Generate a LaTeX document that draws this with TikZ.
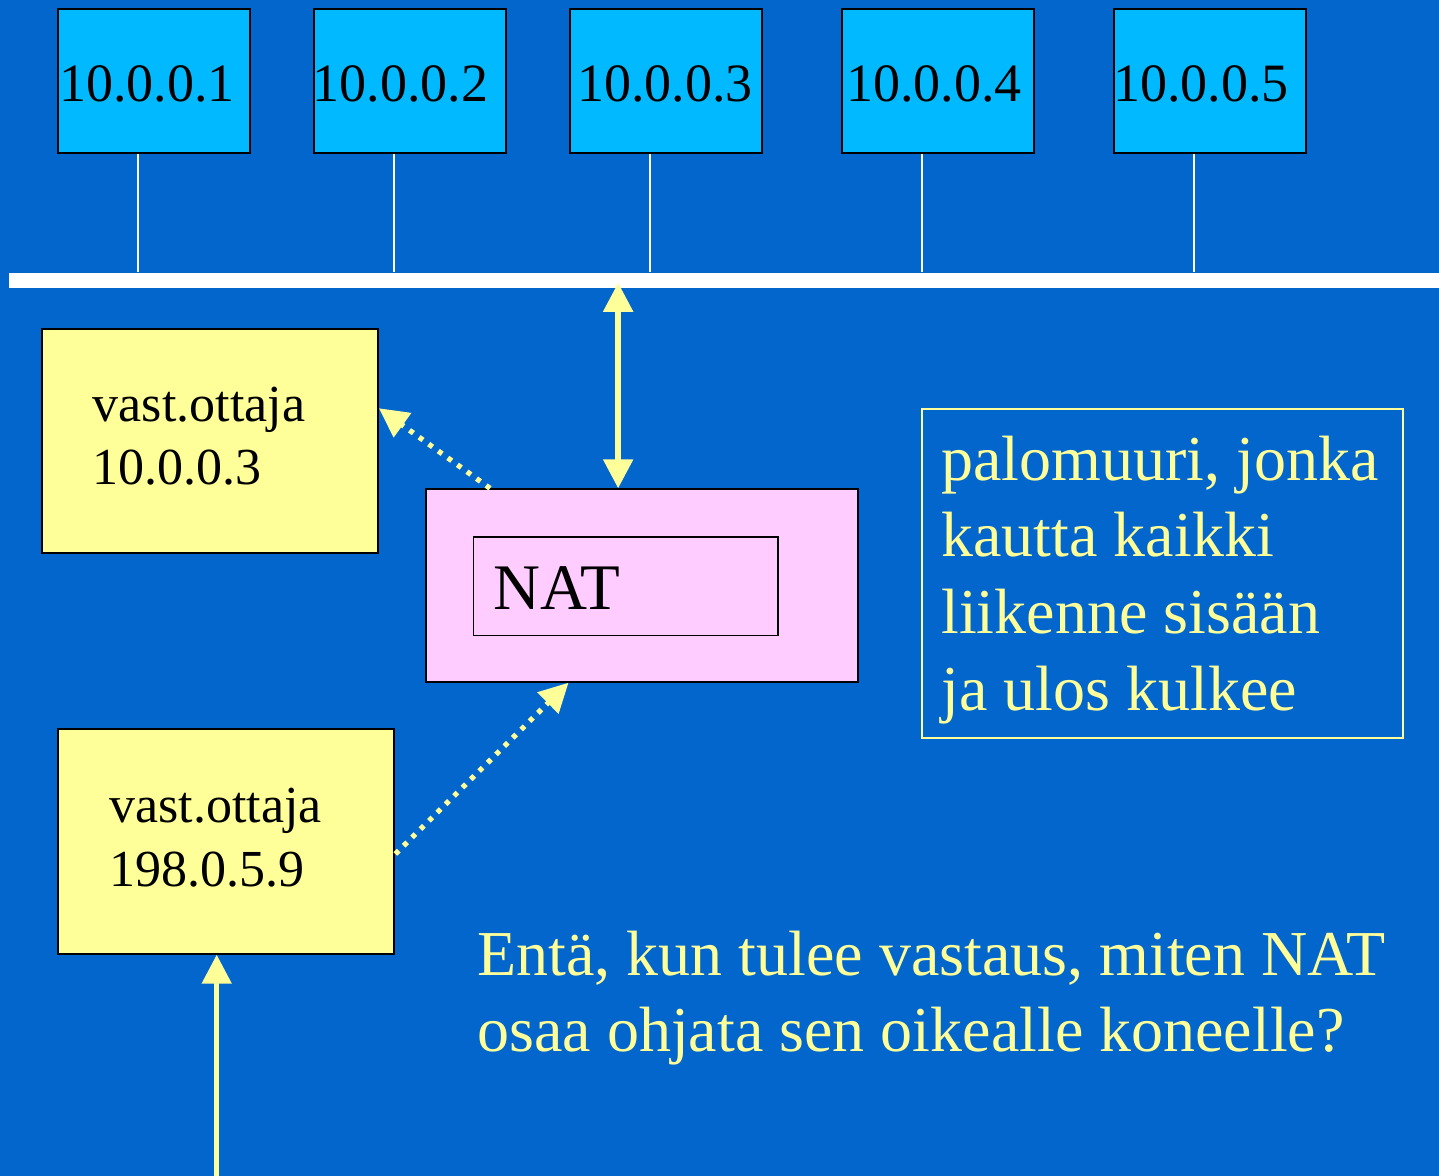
\documentclass[tikz,border=0pt]{standalone}
\usepackage{fontspec}
\setmainfont{Liberation Serif}
\usetikzlibrary{arrows.meta}
\definecolor{bgblue}{HTML}{0366CC}
\definecolor{hostcyan}{HTML}{00B9FF}
\definecolor{pyellow}{HTML}{FFFF99}
\definecolor{ppink}{HTML}{FFCCFF}
\tikzset{
  host/.style={draw=black, line width=1pt, fill=hostcyan, minimum width=96pt, minimum height=72pt, inner sep=0pt, anchor=north west},
  hosttext/.style={anchor=base west, inner sep=0pt, text=black, font=\fontsize{27}{32}\selectfont},
  hostline/.style={draw=white, line width=0.75pt},
  busbar/.style={fill=white, draw=none, minimum width=718.4pt, minimum height=7.85pt, inner sep=0pt, anchor=north west},
  ybox/.style={draw=black, line width=1pt, fill=pyellow, inner sep=0pt, anchor=north west},
  ytext/.style={anchor=base west, inner sep=0pt, text=black, font=\fontsize{26}{31}\selectfont},
  bigtext/.style={anchor=base west, inner sep=0pt, text=pyellow, font=\fontsize{32}{38}\selectfont},
  yarrow/.style={draw=pyellow, line width=2.75pt, arrows={-Triangle[length=14.5pt,width=14.5pt,fill=pyellow]}},
  ydouble/.style={draw=pyellow, line width=2.75pt, arrows={Triangle[length=14.5pt,width=14.5pt,fill=pyellow]-Triangle[length=14.5pt,width=14.5pt,fill=pyellow]}},
  ydotted/.style={draw=pyellow, line width=2.6pt, dash pattern=on 2.4pt off 3.5pt, arrows={-Triangle[length=14.5pt,width=14.5pt,fill=pyellow]}}
}
\begin{document}
\begin{tikzpicture}[x=0.5pt,y=-0.5pt]
\useasboundingbox (0,0) rectangle (1439,1176);
\fill[bgblue] (0,0) rectangle (1439,1176);

% hosts
\node[host] (h1) at (57,8.3) {};
\node[host] (h2) at (313,8.3) {};
\node[host] (h3) at (569,8.3) {};
\node[host] (h4) at (841,8.3) {};
\node[host] (h5) at (1113,8.3) {};
\node[hosttext] (t1) at (59,101.7) {10.0.0.1};
\node[hosttext] (t2) at (312.5,101.7) {10.0.0.2};
\node[hosttext] (t3) at (577,101.7) {10.0.0.3};
\node[hosttext] (t4) at (846,101.7) {10.0.0.4};
\node[hosttext] (t5) at (1112.6,101.7) {10.0.0.5};

% bus
\node[busbar] (bus) at (8.3,272.3) {};
\foreach \i in {1,...,5} {
  \coordinate (c\i) at ([xshift=-8pt]h\i.south);
  \draw[hostline] (c\i) -- (c\i |- bus.north);
}

% NAT
\node[draw=black, line width=1pt, fill=ppink, minimum width=216.15pt, minimum height=96.2pt, inner sep=0pt, anchor=north west] (nat) at (425,488.3) {};
\node[draw=black, line width=0.8pt, minimum width=152.3pt, minimum height=49.35pt, inner sep=0pt, anchor=north west] (natin) at (472.7,536) {};
\node[anchor=base west, inner sep=0pt, text=black, font=\fontsize{32.5}{38}\selectfont] (nattext) at (493,609.3) {NAT};

% receiver boxes
\node[ybox, minimum width=168.15pt, minimum height=112pt] (y1) at (40.7,328.3) {};
\node[ytext] (y1a) at (92.5,421.7) {vast.ottaja};
\node[ytext] (y1b) at (92.5,484.7) {10.0.0.3};
\node[ybox, minimum width=168.3pt, minimum height=112.2pt] (y2) at (56.7,728.3) {};
\node[ytext] (y2a) at (109,822.7) {vast.ottaja};
\node[ytext] (y2b) at (109,886) {198.0.5.9};

% info box
\node[draw=pyellow, line width=1pt, minimum width=240.55pt, minimum height=164.2pt, inner sep=0pt, anchor=north west] (info) at (920.6,408.3) {};
\node[bigtext] (i1) at (941,480.7) {palomuuri, jonka};
\node[bigtext] (i2) at (941,556.7) {kautta kaikki};
\node[bigtext] (i3) at (941,633.3) {liikenne sisään};
\node[bigtext] (i4) at (941,710) {ja ulos kulkee};

% question
\node[bigtext] (q1) at (477,975) {Entä, kun tulee vastaus, miten NAT};
\node[bigtext] (q2) at (477,1051.7) {osaa ohjata sen oikealle koneelle?};

% arrows
\coordinate (da) at ([xshift=-12pt]nat.north);
\draw[ydouble, shorten >=-3pt] (da) -- (da |- bus.south);
\draw[ydotted] ([xshift=32.5pt]nat.north west) -- ([yshift=-40pt]y1.north east);
\draw[ydotted] ([yshift=-62.85pt]y2.north east) -- ([xshift=71.75pt]nat.south west);
\coordinate (bot) at (216.7,1185);
\draw[yarrow, line width=2.5pt] (bot) -- (bot |- y2.south);
\end{tikzpicture}
\end{document}
